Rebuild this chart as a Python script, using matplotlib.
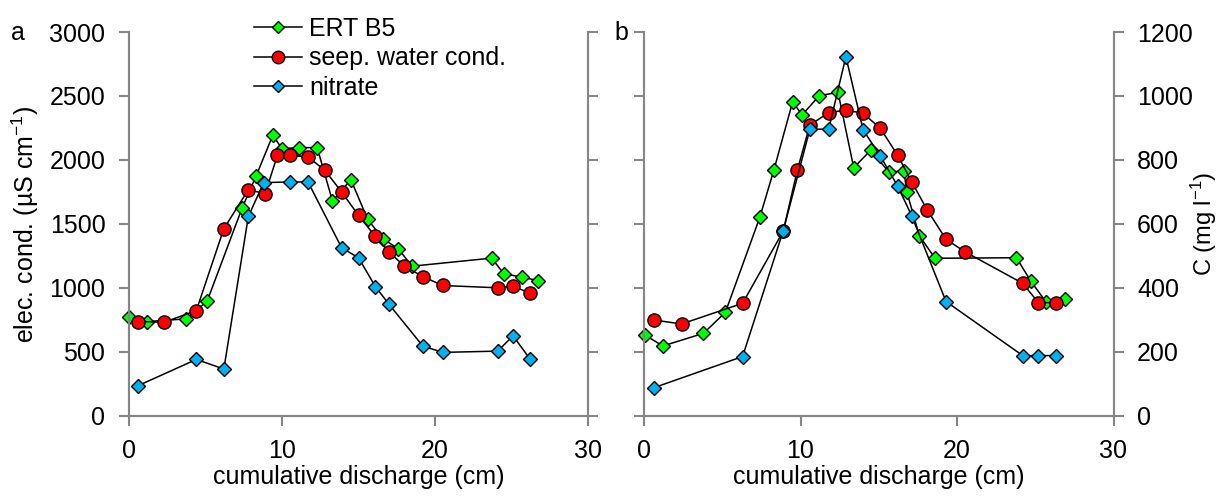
import matplotlib
matplotlib.use("Agg")
import matplotlib.pyplot as plt
from matplotlib.lines import Line2D

plt.rcParams["font.family"] = ["Liberation Sans", "DejaVu Sans"]
plt.rcParams["mathtext.fontset"] = "custom"
plt.rcParams["mathtext.rm"] = "Liberation Sans"
plt.rcParams["mathtext.it"] = "Liberation Sans"
FS = 18
plt.rcParams["font.size"] = FS

# ---- panel a ----
a_ert_x = [0.0, 1.2, 3.7, 5.1, 7.4, 8.3, 9.4, 10.0, 11.1, 12.3, 13.3, 14.5, 15.6, 16.6, 17.6, 18.5, 23.7, 24.5, 25.7, 26.7]
a_ert_y = [770, 736, 757, 893, 1626, 1872, 2193, 2088, 2096, 2096, 1678, 1846, 1535, 1383, 1305, 1169, 1232, 1110, 1083, 1057]
a_seep_x = [0.6, 2.3, 4.4, 6.2, 7.8, 8.9, 9.7, 10.5, 11.7, 12.8, 13.9, 15.0, 16.1, 17.0, 18.0, 19.2, 20.5, 24.1, 25.1, 26.2]
a_seep_y = [736, 731, 822, 1462, 1767, 1736, 2036, 2036, 2023, 1919, 1749, 1566, 1402, 1279, 1169, 1088, 1018, 1000, 1013, 958]
a_no3_x = [0.6, 4.4, 6.2, 7.8, 8.8, 10.5, 11.7, 13.9, 15.0, 16.1, 17.0, 19.2, 20.5, 24.1, 25.1, 26.2]
a_no3_y = [94, 176, 146, 623, 729, 731, 731, 525, 494, 404, 348, 218, 198, 202, 250, 178]

# ---- panel b ----
b_ert_x = [0.06, 1.2, 3.8, 5.2, 7.4, 8.3, 9.5, 10.1, 11.2, 12.4, 13.4, 14.5, 15.65, 16.6, 16.8, 17.6, 18.6, 23.8, 24.7, 25.7, 26.9]
b_ert_y = [631, 545, 644, 808, 1551, 1921, 2455, 2351, 2502, 2528, 1939, 2077, 1903, 1916, 1747, 1405, 1231, 1235, 1055, 887, 910]
b_seep_x = [0.66, 2.4, 6.3, 8.9, 9.8, 10.6, 11.8, 12.9, 14.0, 15.1, 16.2, 17.1, 18.1, 19.3, 20.5, 24.2, 25.2, 26.3]
b_seep_y = [748, 717, 879, 1444, 1921, 2273, 2369, 2390, 2364, 2247, 2038, 1830, 1608, 1379, 1282, 1035, 884, 884]
b_no3_x = [0.66, 6.3, 8.9, 10.6, 11.8, 12.9, 14.0, 15.1, 16.2, 17.1, 19.3, 24.2, 25.2, 26.3]
b_no3_y = [88, 185, 579, 896, 896, 1123, 894, 812, 719, 626, 357, 188, 188, 188]

labels = ["ERT B5", "seep. water cond.", "nitrate"]
spine_col = "#868686"

fig = plt.figure(figsize=(12.18, 4.98), dpi=100)
ax1 = fig.add_axes([129 / 1218, 1 - 415.7 / 498, 459 / 1218, 383.7 / 498])
ax2 = fig.add_axes([644 / 1218, 1 - 415.7 / 498, 469.5 / 1218, 383.7 / 498])

diamond = dict(marker="D", ms=7, mec="black", mew=1.0, color="black", lw=1.1, clip_on=False)
circle = dict(marker="o", ms=9.5, mec="black", mew=1.0, color="black", lw=1.1, clip_on=False)


def setup(ax, axr, left_labels, right_labels):
    for a in (ax, axr):
        a.set_xlim(0, 30)
        a.spines["top"].set_visible(False)
        for s in ("left", "right", "bottom"):
            a.spines[s].set_color(spine_col)
            a.spines[s].set_linewidth(1.5)
        a.tick_params(colors=spine_col, labelcolor="black", length=7, width=1.5, pad=10, labelsize=FS)
    ax.set_ylim(0, 3000)
    ax.set_yticks(range(0, 3001, 500))
    axr.set_ylim(0, 1200)
    axr.set_yticks(range(0, 1201, 200))
    ax.set_xticks([0, 10, 20, 30])
    if not left_labels:
        ax.set_yticklabels([])
    if not right_labels:
        axr.set_yticklabels([])
    ax.set_xlabel("cumulative discharge (cm)", fontsize=FS, labelpad=1)


# panel a
ax1r = ax1.twinx()
ax1.plot(a_ert_x, a_ert_y, mfc="#00ff00", zorder=3, **diamond)
ax1.plot(a_seep_x, a_seep_y, mfc="#ff0000", zorder=4, **circle)
ax1r.plot(a_no3_x, a_no3_y, mfc="#00b0f0", zorder=5, **diamond)
setup(ax1, ax1r, True, False)
ax1.set_ylabel("elec. cond. (µS cm$^{-1}$)", fontsize=FS)
ax1.yaxis.set_label_coords(-0.192, 0.5)

# panel b
ax2r = ax2.twinx()
ax2.plot(b_ert_x, b_ert_y, mfc="#00ff00", zorder=3, **diamond)
ax2.plot(b_seep_x, b_seep_y, mfc="#ff0000", zorder=4, **circle)
ax2r.plot(b_no3_x, b_no3_y, mfc="#00b0f0", zorder=5, **diamond)
setup(ax2, ax2r, False, True)
ax2r.set_ylabel("C (mg l$^{-1}$)", fontsize=17, rotation=90, va="center")
ax2r.yaxis.set_label_coords((1204 - 644) / 469.5, 0.5)

handles = [
    Line2D([], [], marker="D", ms=6.5, mfc="#00ff00", mec="black", color="black", lw=1.1),
    Line2D([], [], marker="o", ms=9, mfc="#ff0000", mec="black", color="black", lw=1.1),
    Line2D([], [], marker="D", ms=6.5, mfc="#00b0f0", mec="black", color="black", lw=1.1),
]
ax1r.legend(handles, labels, loc="upper left", bbox_to_anchor=(239 / 1218, 1 - 2 / 498),
            bbox_transform=fig.transFigure, frameon=False, fontsize=FS,
            handlelength=1.9, handletextpad=0.3, labelspacing=0.22, borderaxespad=0.2)

fig.text(18 / 1218, 1 - 33 / 498, "a", fontsize=FS, ha="center", va="center")
fig.text(621 / 1218, 1 - 33 / 498, "b", fontsize=FS, ha="center", va="center")

fig.savefig("out.png", dpi=100)
